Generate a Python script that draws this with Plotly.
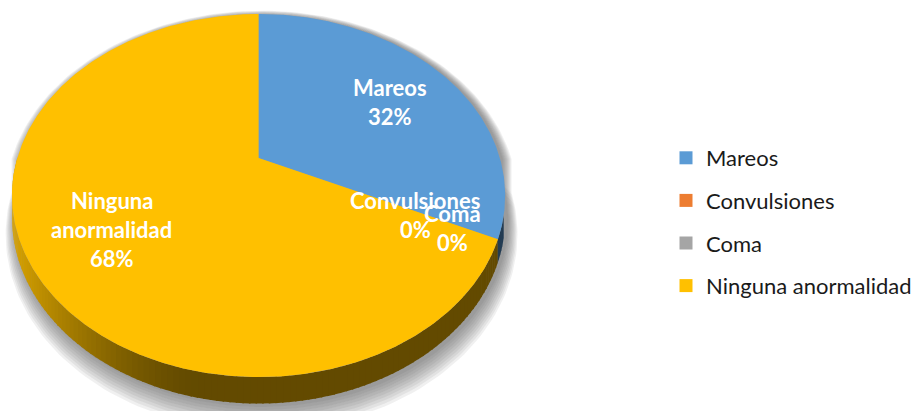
import numpy as np
import plotly.graph_objects as go

# ---- data -------------------------------------------------------------
categories = ["Mareos", "Convulsiones", "Coma", "Ninguna anormalidad"]
values = [32, 0, 0, 68]
colors = ["#5B9BD5", "#ED7D31", "#A5A5A5", "#FFC000"]

# ---- geometry of the tilted, extruded disc (pixel space) ---------------
W, H = 917, 411
CX, CY = 260, 158        # projected centre of the disc
K = 0.2067               # perspective strength
RX, RY = 242.6, 173.8    # horizontal / vertical radius factors
THICK = 21               # extrusion depth
FONT = "Lato"


def project(phi_deg, r=1.0, drop=0.0):
    """Map an angle (degrees clockwise from 12 o'clock) on the disc to pixels."""
    phi = np.radians(phi_deg)
    x = r * np.sin(phi)
    y = r * np.cos(phi)
    w = 1 + K * y
    return CX + RX * x / w, CY + (-RY * y + drop) / w


def hex_rgb(h):
    h = h.lstrip("#")
    return tuple(int(h[i:i + 2], 16) for i in (0, 2, 4))


def shade(hexcol, f):
    r, g, b = hex_rgb(hexcol)
    return "rgb(%d,%d,%d)" % (min(255, r * f), min(255, g * f), min(255, b * f))


total = float(sum(values))
fractions = [v / total for v in values]
starts = np.concatenate([[0], np.cumsum(fractions)[:-1]]) * 360
ends = np.cumsum(fractions) * 360

fig = go.Figure()

# soft drop shadow underneath the disc (stacked translucent layers)
for i in range(9):
    r = 1.0 + 0.0045 * i
    back = np.linspace(-90, 90, 120)
    front = np.linspace(90, 270, 120)
    bx, by = project(back, r, 0)
    fx, fy = project(front, r, THICK + 2 + 1.3 * i)
    fig.add_trace(go.Scatter(
        x=np.concatenate([bx, fx]) + 3, y=np.concatenate([by, fy]) + 1,
        mode="lines", line=dict(width=0), fill="toself",
        fillcolor="rgba(80,80,80,0.085)", hoverinfo="skip", showlegend=False))

# side wall of the visible front part, shaded darker towards the right
n_seg = 130
edges = np.linspace(108, 270, n_seg + 1)
for a0, a1 in zip(edges[:-1], edges[1:]):
    mid = 0.5 * (a0 + a1)
    idx = int(np.searchsorted(ends, mid % 360, side="right"))
    idx = min(idx, len(values) - 1)
    while values[idx] == 0:
        idx += 1
    seg = np.linspace(a0, a1 + 0.3, 4)
    tx, ty = project(seg)
    bx, by = project(seg[::-1], 1.0, THICK)
    mx, _ = project(mid)
    t = np.clip((200 - mx) / 190.0, 0, 1)
    f = 0.39 + 0.47 * t ** 1.6
    fig.add_trace(go.Scatter(
        x=np.concatenate([tx, bx]), y=np.concatenate([ty, by]),
        mode="lines", line=dict(width=0), fill="toself",
        fillcolor=shade(colors[idx], f), hoverinfo="skip", showlegend=False))

# top face slices
for name, v, c, a0, a1 in zip(categories, values, colors, starts, ends):
    if v == 0:
        continue
    arc = np.linspace(a0, a1, max(8, int((a1 - a0) * 2)))
    ax_, ay_ = project(arc)
    fig.add_trace(go.Scatter(
        x=np.concatenate([[CX], ax_, [CX]]), y=np.concatenate([[CY], ay_, [CY]]),
        mode="lines", line=dict(width=0), fill="toself", fillcolor=c,
        name=name, hoverinfo="skip", showlegend=False))

# legend entries
for name, c in zip(categories, colors):
    fig.add_trace(go.Scatter(
        x=[None], y=[None], mode="markers", name=name, legendgroup=name,
        marker=dict(symbol="square", size=13, color=c)))

# data labels: category name and percentage
label_r = 0.65
label_nudge = [(8, 0), (6, 6), (44, 19), (-4, 6)]
annotations = []
for i, (name, v) in enumerate(zip(categories, values)):
    ang = 0.5 * (starts[i] + ends[i])
    lx, ly = project(ang, label_r)
    lx += label_nudge[i][0]
    ly += label_nudge[i][1]
    pct = "%d%%" % round(v / total * 100)
    lines = (name.split(" ") if " " in name else [name]) + [pct]
    n = len(lines)
    for j, txt in enumerate(lines):
        annotations.append(dict(
            x=lx, y=ly + (j - (n - 1) / 2) * 29, text="<b>%s</b>" % txt,
            showarrow=False, xanchor="center", yanchor="middle",
            font=dict(family=FONT, size=22, color="white")))

fig.update_layout(
    width=W, height=H, margin=dict(l=0, r=0, t=0, b=0),
    paper_bgcolor="white", plot_bgcolor="white",
    xaxis=dict(range=[0, W], visible=False, fixedrange=True),
    yaxis=dict(range=[H, 0], visible=False, fixedrange=True),
    annotations=annotations,
    legend=dict(x=670 / W, y=1 - 137 / H, xanchor="left", yanchor="top",
                font=dict(family=FONT, size=22, color="#1a1a1a"),
                traceorder="grouped", tracegroupgap=11,
                bgcolor="rgba(0,0,0,0)"),
    showlegend=True,
)

fig.write_html("out.html")
